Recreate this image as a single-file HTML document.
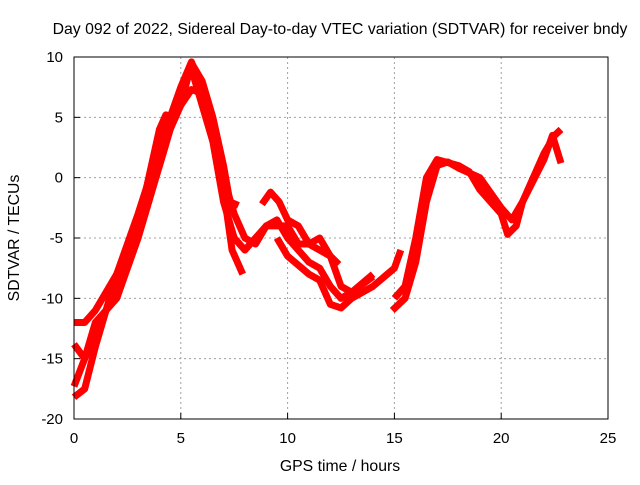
<!DOCTYPE html>
<html><head><meta charset="utf-8"><style>
body{margin:0;background:#fff}
svg{font-family:"Liberation Sans",sans-serif;font-size:15px}
</style></head><body>
<svg width="640" height="480" xmlns="http://www.w3.org/2000/svg">
<rect width="640" height="480" fill="#fff"/>
<g id="grid"></g>
<g id="series"></g>
<rect x="74" y="57" width="534" height="362" fill="none" stroke="#000" stroke-width="1"/>
<g id="axes"></g>
<text x="340" y="34" text-anchor="middle" font-size="15.8">Day 092 of 2022, Sidereal Day-to-day VTEC variation (SDTVAR) for receiver bndy</text>
<text x="340" y="471" text-anchor="middle" font-size="15.8">GPS time / hours</text>
<text transform="translate(19,238) rotate(-90)" text-anchor="middle" font-size="15.8">SDTVAR / TECUs</text>
</svg>
<script>
const xTicks=[0,5,10,15,20,25];
const yTicks=[10,5,0,-5,-10,-15,-20];
const traceA=[[0,-18.2],[0.5,-17.5],[1,-14],[1.5,-11],[2,-8],[3,-3],[4,2.5],[5,7.5],[5.5,9.6],[6,7],[6.5,4],[7,-1],[7.4,-6],[7.9,-8]];
const traceB=[[0,-17.3],[0.5,-15],[1,-12],[2,-10],[3,-5],[4,1],[4.5,4],[5,6],[5.5,7.3],[6,7],[6.5,4],[7,0],[7.5,-3],[8,-5],[8.5,-5.5],[9,-4],[9.5,-3.5],[10,-5],[10.5,-6],[11,-7],[11.5,-7.5],[12,-9],[12.5,-10],[13,-9.5],[14,-8.2]];
const traceC=[[0,-12],[0.5,-12],[1,-11],[2,-8],[3,-4],[3.5,0],[4,4],[4.3,5.2],[4.7,5],[5,6],[5.5,9.5],[6,8],[6.5,5],[7,1],[7.3,-2],[7.7,-2.3]];
const traceC2=[[8.8,-2.2],[9.2,-1.2],[9.6,-2],[10,-3.5],[10.5,-4],[11,-5.5],[11.5,-6],[12,-6.5],[12.4,-7.2]];
const traceD=[[0,-13.8],[0.5,-15],[1,-13],[2,-9],[3,-4.5],[4,1],[4.5,4],[5,7],[5.5,9],[6,6],[6.5,3],[7,-2],[7.5,-5],[8,-6],[8.5,-5],[9,-4],[10,-4],[10.5,-5.5],[11,-5.5],[11.5,-5],[12,-6.5],[12.5,-9],[13,-9.5],[14,-8]];
const traceE=[[9.5,-5],[10,-6.5],[11,-8],[11.5,-8.5],[12,-10.5],[12.5,-10.8],[13,-10],[14,-9],[15,-7.5],[15.3,-6]];
const traceF=[[14.9,-11],[15.5,-10],[16,-7],[16.5,-2],[17,1],[17.5,1.3],[18,0.8],[19,0],[20,-2.5],[20.5,-3.5],[21,-2],[21.5,0],[22,2],[22.5,3.5],[22.8,4]];
const traceG=[[15,-10],[15.5,-9],[16,-5],[16.5,0],[17,1.5],[18,1],[18.5,0.5],[19,-1],[20,-3],[20.3,-4.7],[20.7,-4],[21,-2],[22,1.5],[22.4,3.5],[22.8,1.2]];
const traces=[traceA,traceB,traceC,traceC2,traceD,traceE,traceF,traceG];
const NS="http://www.w3.org/2000/svg";
const X=h=>74+h*(534/25);
const Y=v=>57+(10-v)*(362/30);
const grid=document.getElementById('grid'),axes=document.getElementById('axes'),ser=document.getElementById('series');
function mk(tag,attrs,parent){const e=document.createElementNS(NS,tag);for(const k in attrs)e.setAttribute(k,attrs[k]);parent.appendChild(e);return e;}
xTicks.forEach(t=>{
  if(t>0&&t<25){const l=mk('line',{x1:X(t),x2:X(t),y1:57,y2:419,stroke:'#a0a0a0','stroke-dasharray':'2,3'},grid);
  
  }
  const tk=mk('line',{x1:X(t),x2:X(t),y1:419,y2:413,stroke:'#000'},axes);
  
  
  const tx=mk('text',{x:X(t),y:443,'text-anchor':'middle'},axes);tx.textContent=t;
  
  
});
yTicks.forEach(t=>{
  if(t>-20&&t<10){const l=mk('line',{x1:74,x2:608,y1:Y(t),y2:Y(t),stroke:'#a0a0a0','stroke-dasharray':'2,3'},grid);
  
  }
  const tk=mk('line',{x1:74,x2:80,y1:Y(t),y2:Y(t),stroke:'#000'},axes);
  
  
  const tx=mk('text',{x:63,y:Y(t)+5,'text-anchor':'end'},axes);tx.textContent=t;
  
  
});
traces.forEach(tr=>{
  const p=mk('polyline',{points:tr.map(d=>X(d[0])+','+Y(d[1])).join(' '),fill:'none',stroke:'#ff0000','stroke-width':7,'stroke-linejoin':'round'},ser);
  
  
});
</script>
</body></html>
